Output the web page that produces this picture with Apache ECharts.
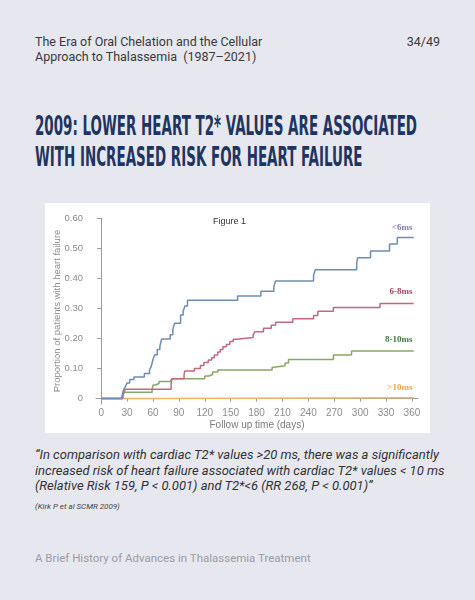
<!DOCTYPE html>
<html><head><meta charset="utf-8">
<script src="https://cdn.jsdelivr.net/npm/echarts@6/dist/echarts.min.js"></script>
<style>
html,body{margin:0;padding:0;width:475px;height:600px;background:#e6e7ef;overflow:hidden;font-family:Roboto,'Noto Sans',sans-serif;}
.abs{position:absolute;white-space:nowrap;}
#hdr{left:35px;top:35px;font-size:12.5px;line-height:14.6px;color:#3a3a3a;}
#pg{left:390px;width:50px;text-align:right;top:35px;font-size:12.5px;line-height:14.6px;color:#3a3a3a;}
.tl{left:35px;font-family:'Liberation Sans Narrow','DejaVu Sans Condensed',sans-serif;font-weight:bold;font-size:26px;line-height:26px;color:#1f3561;transform-origin:0 0;}
#quote{left:35px;top:447px;font-size:13px;line-height:15.5px;font-style:italic;color:#333;}
#cite{left:35px;top:502px;font-size:8px;line-height:10px;font-style:italic;color:#444;}
#foot{left:35px;top:551px;font-size:11.5px;line-height:14px;color:#9c9ca6;}
#chart{position:absolute;left:45px;top:203px;width:385px;height:230px;background:#ffffff;}
</style></head>
<body>
<div id="hdr" class="abs">The Era of Oral Chelation and the Cellular<br>Approach to Thalassemia&nbsp; (1987–2021)</div>
<div id="pg" class="abs">34/49</div>
<div id="t1" class="abs tl" style="top:112.5px">2009: LOWER HEART T2* VALUES ARE ASSOCIATED</div>
<div id="t2" class="abs tl" style="top:143.5px">WITH INCREASED RISK FOR HEART FAILURE</div>
<div id="chart"></div>
<div id="quote" class="abs">“In comparison with cardiac T2* values &gt;20 ms, there was a significantly<br>increased risk of heart failure associated with cardiac T2* values &lt; 10 ms<br>(Relative Risk 159, P &lt; 0.001) and T2*&lt;6 (RR 268, P &lt; 0.001)”</div>
<div id="cite" class="abs">(Kirk P et al SCMR 2009)</div>
<div id="foot" class="abs">A Brief History of Advances in Thalassemia Treatment</div>
<script>
// scale title to condensed width
(function(){
  var t1=document.getElementById('t1'), t2=document.getElementById('t2');
  var w=t1.getBoundingClientRect().width;
  var s=382/w;
  t1.style.transform='scaleX('+s+')';
  t2.style.transform='scaleX('+s+')';
})();

var xTicks=[0,30,60,90,120,150,180,210,240,270,300,330,360];
var yTicks=[0,0.1,0.2,0.3,0.4,0.5,0.6];
var seriesNames=['<6ms','6-8ms','8-10ms','>10ms'];

var lt6=[[0,0],[24,0.007],[25,0.02],[26,0.03],[28,0.04],[30,0.052],[33,0.063],[38,0.072],[50,0.083],[56,0.095],[58,0.107],[60,0.13],[62,0.146],[65,0.163],[68,0.174],[70,0.198],[80,0.212],[83,0.23],[85,0.25],[92,0.278],[95,0.29],[97,0.308],[100,0.327],[158,0.341],[185,0.357],[200,0.372],[202,0.391],[246,0.41],[248,0.428],[296,0.45],[297,0.468],[312,0.49],[334,0.514],[343,0.535],[362,0.535]];
var s68=[[0,0],[25,0.01],[26,0.018],[28,0.031],[81,0.05],[82,0.066],[96,0.08],[97,0.092],[108,0.1],[115,0.11],[119,0.12],[124,0.128],[128,0.136],[131,0.145],[135,0.155],[138,0.163],[141,0.172],[145,0.18],[149,0.19],[153,0.197],[157,0.203],[176,0.212],[178,0.222],[188,0.234],[197,0.244],[202,0.254],[222,0.265],[246,0.276],[251,0.29],[269,0.303],[323,0.316],[362,0.316]];
var s810=[[0,0],[25,0.01],[27,0.021],[59,0.03],[60,0.045],[63,0.05],[67,0.057],[80,0.062],[82,0.066],[120,0.075],[125,0.08],[129,0.088],[135,0.095],[198,0.103],[200,0.109],[213,0.118],[217,0.13],[269,0.145],[290,0.158],[362,0.158]];
var gt10=[[0,0],[60,0.003],[362,0.003]];

var colors=['#6f8db0','#c4687d','#8aa76a','#f4b464'];
var labelColors=['#857cb6','#a8445e','#3f7a40','#f0a44a'];
var tickFont='"Liberation Sans Narrow","Liberation Sans",sans-serif';
var chart=echarts.init(document.getElementById('chart'),null,{renderer:'canvas'});
var mk=function(name,data,i){return {name:name,type:'line',step:'end',data:data,showSymbol:false,symbol:'none',
  lineStyle:{color:colors[i],width:1.5},itemStyle:{color:colors[i]},z:10-i};};
chart.setOption({
  animation:false,
  grid:{left:51,top:15,width:322,height:186,containLabel:false,outerBoundsMode:'none'},
  xAxis:{type:'value',min:-6,max:367,
    axisLine:{show:true,lineStyle:{color:'#9a9a9a',width:1}},
    axisTick:{show:true,length:3,lineStyle:{color:'#9a9a9a'},customValues:xTicks},
    axisLabel:{customValues:xTicks,fontSize:10,color:'#8c8c8c',margin:4,fontFamily:tickFont},
    splitLine:{show:false},
    name:'Follow up time (days)',nameLocation:'middle',nameGap:16,nameMoveOverlap:false,
    nameTextStyle:{fontSize:10,color:'#7a7a7a',fontFamily:tickFont}},
  yAxis:{type:'value',min:-0.018,max:0.6,
    axisLine:{show:true,lineStyle:{color:'#9a9a9a',width:1}},
    axisTick:{show:true,length:4,lineStyle:{color:'#9a9a9a'},customValues:yTicks},
    axisLabel:{customValues:yTicks,fontSize:9.5,color:'#8c8c8c',margin:13,fontFamily:tickFont,
      formatter:function(v){return v===0?'0':v.toFixed(2);}},
    splitLine:{show:false},
    name:'Proportion of patients with heart failure',nameLocation:'middle',nameGap:34,nameRotate:90,nameMoveOverlap:false,
    nameTextStyle:{fontSize:9.5,color:'#8c8c8c',fontFamily:'Liberation Sans'}},
  series:[mk(seriesNames[0],lt6,0),mk(seriesNames[1],s68,1),mk(seriesNames[2],s810,2),mk(seriesNames[3],gt10,3)],
  graphic:[
    {type:'text',left:168,top:14,style:{text:'Figure 1',font:'9px "Liberation Sans"',fill:'#333'}},
    {type:'text',x:367.5,y:24.7,style:{text:seriesNames[0],font:'bold 9px "Liberation Serif"',fill:labelColors[0],align:'right',verticalAlign:'middle'}},
    {type:'text',x:367.5,y:88.7,style:{text:seriesNames[1],font:'bold 9px "Liberation Serif"',fill:labelColors[1],align:'right',verticalAlign:'middle'}},
    {type:'text',x:367.5,y:137,style:{text:seriesNames[2],font:'bold 9px "Liberation Serif"',fill:labelColors[2],align:'right',verticalAlign:'middle'}},
    {type:'text',x:367.5,y:184.3,style:{text:seriesNames[3],font:'bold 9px "Liberation Serif"',fill:labelColors[3],align:'right',verticalAlign:'middle'}}
  ]
});
</script>
</body></html>
